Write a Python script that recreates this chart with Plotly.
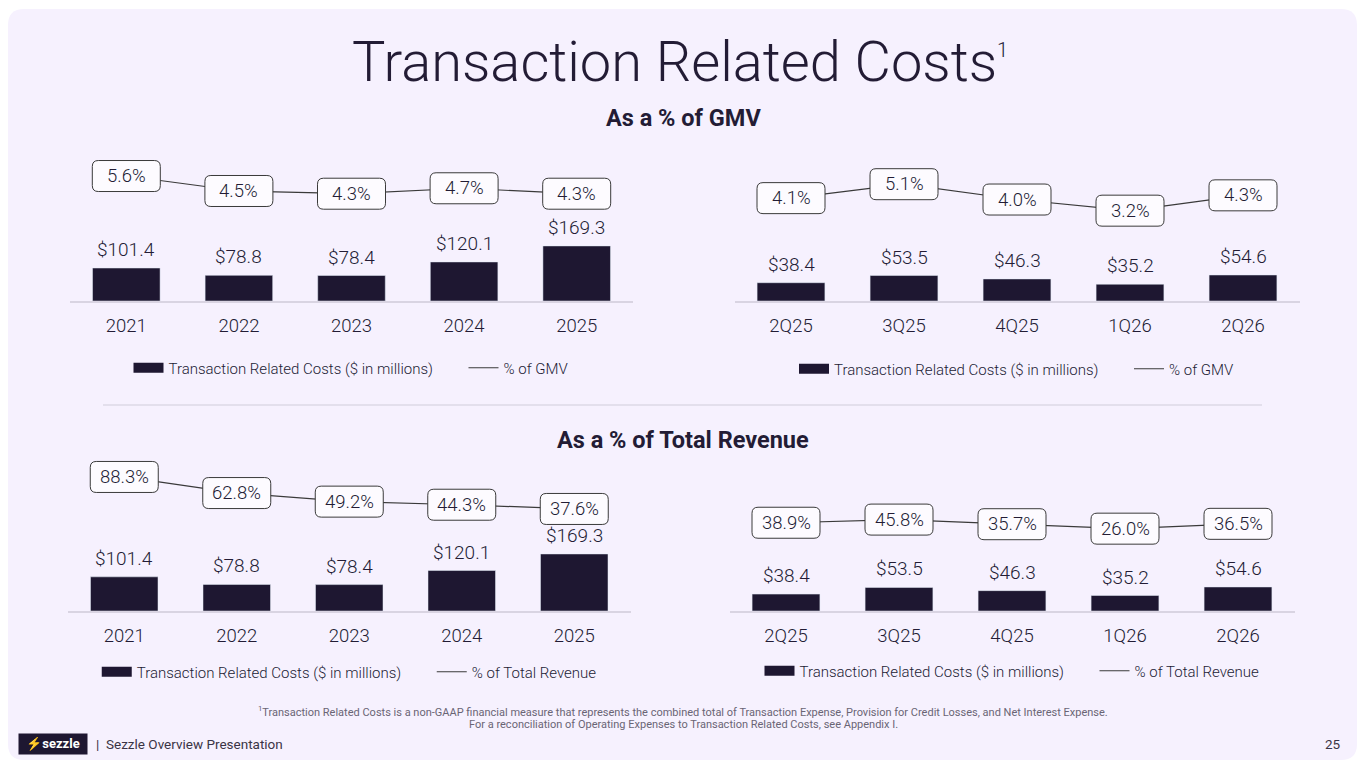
import plotly.graph_objects as go

# ---------------- data ----------------
years = ["2021", "2022", "2023", "2024", "2025"]
quarters = ["2Q25", "3Q25", "4Q25", "1Q26", "2Q26"]
annual_costs = [101.4, 78.8, 78.4, 120.1, 169.3]
quarterly_costs = [38.4, 53.5, 46.3, 35.2, 54.6]
annual_pct_gmv = [5.6, 4.5, 4.3, 4.7, 4.3]
quarterly_pct_gmv = [4.1, 5.1, 4.0, 3.2, 4.3]
annual_pct_rev = [88.3, 62.8, 49.2, 44.3, 37.6]
quarterly_pct_rev = [38.9, 45.8, 35.7, 26.0, 36.5]
bar_name = "Transaction Related Costs ($ in millions)"
gmv_name = "% of GMV"
rev_name = "% of Total Revenue"

# ---------------- style ----------------
W, H = 1365, 768
FONT = "Roboto"
TXT = "#231C35"
BAR = "#1E1731"
LINE = "#3A3A3A"
CARD = "#F6F1FE"
PAD = "\u00a0" * 7


def fx(px):
    return px / W


def fy(py):
    return 1 - py / H


# panel layout: (cats, costs, pct, line name, x0px, x1px, baseline px, top px, legend px, bar range, line range)
panels = [
    (years, annual_costs, annual_pct_gmv, gmv_name, 70, 633, 301, 140, 368, [0, 495], [-3.59, 8.25]),
    (quarters, quarterly_costs, quarterly_pct_gmv, gmv_name, 734.5, 1299.5, 301, 140, 369, [0, 338], [-3.28, 8.27]),
    (years, annual_costs, annual_pct_rev, rev_name, 68, 630.5, 611, 455, 672, [0, 463], [-124.1, 123.1]),
    (quarters, quarterly_costs, quarterly_pct_rev, rev_name, 729.5, 1294.5, 611, 455, 671, [0, 354.5], [-153.4, 186.5]),
]

# rounded label box (pixel offsets around the data point)
hw, hh, rr = 34, 15.5, 6
box_path = (f"M{-hw + rr},{-hh} L{hw - rr},{-hh} Q{hw},{-hh} {hw},{-hh + rr} "
            f"L{hw},{hh - rr} Q{hw},{hh} {hw - rr},{hh} L{-hw + rr},{hh} "
            f"Q{-hw},{hh} {-hw},{hh - rr} L{-hw},{-hh + rr} Q{-hw},{-hh} {-hw + rr},{-hh} Z")

fig = go.Figure()
layout = {}
annotations = []
shapes = []

for i, (cats, costs, pct, lname, x0, x1, base, top, legy, brange, lrange) in enumerate(panels):
    xid = "x" if i == 0 else f"x{i + 1}"
    ybid = "y" if i == 0 else f"y{2 * i + 1}"
    ylid = f"y{2 * i + 2}"
    legid = "legend" if i == 0 else f"legend{i + 1}"
    xkey = "xaxis" if i == 0 else f"xaxis{i + 1}"
    ybkey = "yaxis" if i == 0 else f"yaxis{2 * i + 1}"
    ylkey = f"yaxis{2 * i + 2}"

    fig.add_trace(go.Bar(x=cats, y=costs, xaxis=xid, yaxis=ybid, marker_color=BAR,
                         width=0.6, showlegend=False, name=bar_name, hoverinfo="skip"))
    # legend swatch for bars (wide rectangle like the reference)
    fig.add_trace(go.Scatter(x=[None], y=[None], xaxis=xid, yaxis=ybid, mode="lines",
                             line=dict(color=BAR, width=10), name=bar_name + PAD, legend=legid))
    fig.add_trace(go.Scatter(x=cats, y=pct, xaxis=xid, yaxis=ylid, mode="lines",
                             line=dict(color=LINE, width=1.2), name=lname, legend=legid,
                             hoverinfo="skip"))

    dom_y = [fy(base), fy(top)]
    layout[xkey] = dict(domain=[fx(x0), fx(x1)], anchor=ybid, type="category",
                        range=[-0.5, len(cats) - 0.5],
                        showline=True, linecolor="#D9D4E2", linewidth=1.5, showgrid=False,
                        zeroline=False, ticks="", ticklabelstandoff=7,
                        tickfont=dict(family=FONT, size=18.5, color=TXT, weight=300),
                        fixedrange=True)
    layout[ybkey] = dict(domain=dom_y, range=brange, visible=False, anchor=xid, fixedrange=True)
    layout[ylkey] = dict(domain=dom_y, range=lrange, visible=False, anchor=xid,
                         overlaying=ybid, fixedrange=True)
    layout[legid] = dict(orientation="h", x=fx((x0 + x1) / 2), xanchor="center",
                         y=fy(legy), yanchor="middle", bgcolor="rgba(0,0,0,0)",
                         font=dict(family=FONT, size=15, color=TXT, weight=300), itemwidth=30,
                         traceorder="normal")

    for j, v in enumerate(costs):
        annotations.append(dict(x=j, y=v, xref=xid, yref=ybid, text=f"${v:.1f}",
                                showarrow=False, xanchor="center", yanchor="bottom", yshift=5,
                                font=dict(family=FONT, size=19, color=TXT, weight=300)))
    for j, v in enumerate(pct):
        shapes.append(dict(type="path", xref=xid, yref=ylid, xsizemode="pixel",
                           ysizemode="pixel", xanchor=j, yanchor=v, path=box_path,
                           fillcolor="#FDFBFF", line=dict(color=LINE, width=1), layer="above"))
        annotations.append(dict(x=j, y=v, xref=xid, yref=ylid, text=f"{v:.1f}%",
                                showarrow=False, xanchor="center", yanchor="middle",
                                font=dict(family=FONT, size=18.5, color=TXT, weight=300)))


def paper_text(px, py, text, size, color=TXT, xanchor="center", **kw):
    return dict(x=fx(px), y=fy(py), xref="paper", yref="paper", showarrow=False,
                text=text, xanchor=xanchor, yanchor="middle",
                font=dict(family=FONT, size=size, color=color, **kw))


annotations += [
    paper_text(680, 62, "Transaction Related Costs<sup><span style='font-size:20px'>1</span></sup>",
               56, weight=300),
    paper_text(683, 118, "<b>As a % of GMV</b>", 23.5),
    paper_text(683, 440, "<b>As a % of Total Revenue</b>", 23.5),
    paper_text(683, 711, "<sup>1</sup>Transaction Related Costs is a non-GAAP financial measure that represents the combined total of Transaction Expense, Provision for Credit Losses, and Net Interest Expense.",
               11, "#6A6575"),
    paper_text(683, 724, "For a reconciliation of Operating Expenses to Transaction Related Costs, see Appendix I.",
               11, "#6A6575"),
    paper_text(94, 744, "|  Sezzle Overview Presentation", 13.5, "#3A3445", xanchor="left"),
    paper_text(1343, 744, "25", 13.5, "#3A3445", xanchor="right"),
]
logo = paper_text(18, 744, "<span style='color:#F58A2A'>⚡</span><b>sezzle</b>", 13, "#FFFFFF",
                  xanchor="left")
logo.update(bgcolor=BAR, borderpad=3, width=62, height=14)
annotations.append(logo)

# card background with rounded corners + divider
r_x, r_y = 16 / W, 16 / H
cx0, cx1, cy0, cy1 = fx(8), fx(1357), fy(760), fy(9)
card_path = (f"M{cx0 + r_x},{cy0} L{cx1 - r_x},{cy0} Q{cx1},{cy0} {cx1},{cy0 + r_y} "
             f"L{cx1},{cy1 - r_y} Q{cx1},{cy1} {cx1 - r_x},{cy1} L{cx0 + r_x},{cy1} "
             f"Q{cx0},{cy1} {cx0},{cy1 - r_y} L{cx0},{cy0 + r_y} Q{cx0},{cy0} {cx0 + r_x},{cy0} Z")
shapes = [
    dict(type="path", xref="paper", yref="paper", path=card_path, fillcolor=CARD,
         line=dict(width=0), layer="below"),
    dict(type="line", xref="paper", yref="paper", x0=fx(103), x1=fx(1262), y0=fy(405), y1=fy(405),
         line=dict(color="#DDD8E6", width=1.5)),
] + shapes

fig.update_layout(width=W, height=H, margin=dict(l=0, r=0, t=0, b=0),
                  paper_bgcolor="#FFFFFF", plot_bgcolor="rgba(0,0,0,0)",
                  font=dict(family=FONT, color=TXT), barmode="overlay",
                  annotations=annotations, shapes=shapes, hovermode=False, **layout)

fig.write_html("out.html", config={"displayModeBar": False},
               post_script="document.body.style.margin='0';document.body.style.overflow='hidden';")
